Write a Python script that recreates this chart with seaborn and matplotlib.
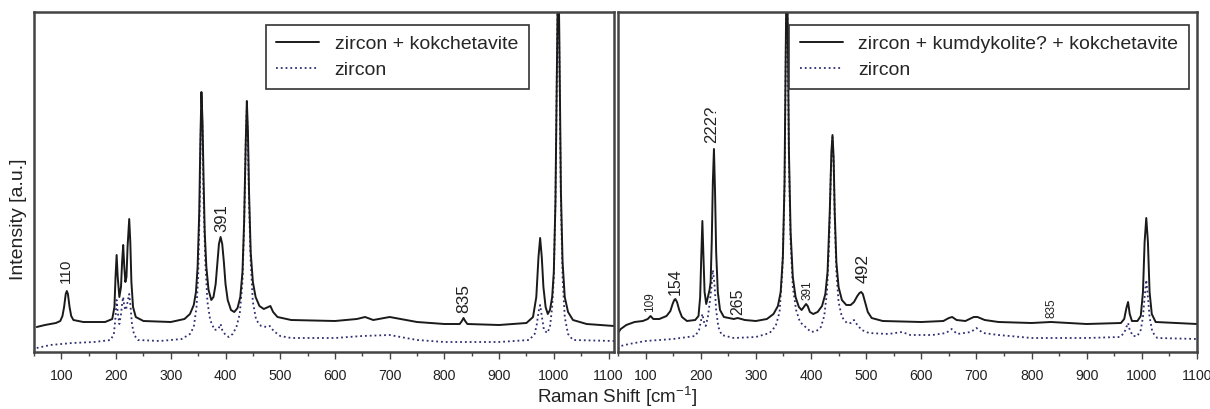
import numpy as np
import pandas as pd
import seaborn as sns
import matplotlib.pyplot as plt
from matplotlib.lines import Line2D

# ---- data (intensity in arbitrary units) ----
left_mix_x = [55, 70, 90, 98, 102, 105, 108, 110, 112, 115, 118, 122, 140, 180, 193, 197, 199, 201,
              203, 206, 209, 211, 213, 215, 217, 219, 221, 224, 226, 228, 231, 236, 250, 300, 325,
              335, 342, 346, 349, 352, 354, 356, 358, 360, 362, 365, 369, 374, 378, 382, 385, 388,
              391, 394, 397, 400, 404, 410, 416, 422, 427, 431, 434, 437, 439, 441, 443, 446, 450,
              455, 462, 470, 478, 482, 487, 495, 520, 600, 640, 655, 670, 700, 720, 750, 800, 828,
              832, 835, 838, 842, 900, 950, 962, 968, 972, 975, 978, 981, 985, 989, 993, 997, 1000,
              1003, 1006, 1008, 1010, 1013, 1016, 1020, 1026, 1035, 1060, 1110]
left_mix_y = [25, 27, 29, 31, 36, 45, 58, 61, 58, 45, 36, 32, 30, 30, 33, 45, 75, 97,
              75, 55, 65, 90, 107, 85, 70, 75, 105, 133, 110, 70, 45, 35, 31, 30, 33,
              38, 47, 60, 85, 140, 210, 260, 230, 170, 120, 85, 62, 52, 55, 68, 88, 108,
              115, 108, 90, 68, 52, 42, 40, 44, 55, 80, 130, 210, 251, 220, 160, 100, 70,
              55, 46, 43, 45, 46, 40, 35, 32, 31, 33, 35, 32, 35, 33, 30, 28, 28,
              31, 34, 31, 28, 27, 29, 35, 55, 95, 114, 95, 65, 45, 38, 42, 55, 80,
              150, 300, 400, 320, 160, 90, 55, 40, 32, 28, 26]

left_zr_x = [55, 80, 120, 160, 190, 196, 199, 201, 203, 206, 209, 211, 213, 215, 218, 221, 224, 226,
             229, 233, 240, 280, 320, 335, 342, 347, 350, 353, 355, 356, 358, 360, 363, 367, 372,
             380, 387, 391, 394, 400, 406, 413, 420, 426, 431, 434, 437, 439, 441, 443, 446, 450,
             456, 465, 475, 481, 488, 500, 520, 600, 650, 700, 750, 800, 900, 955, 965, 969, 972,
             975, 978, 982, 988, 993, 997, 1000, 1003, 1006, 1008, 1010, 1013, 1016, 1020, 1026,
             1035, 1110]
left_zr_y = [4, 7, 9, 10, 12, 18, 35, 52, 40, 28, 38, 48, 55, 45, 42, 50, 58, 48,
             28, 17, 12, 11, 13, 18, 25, 45, 75, 150, 230, 255, 220, 150, 90, 50, 32,
             22, 23, 28, 22, 17, 15, 18, 25, 38, 70, 125, 210, 245, 210, 150, 90, 50,
             32, 26, 25, 26, 21, 16, 14, 14, 16, 17, 12, 10, 10, 12, 18, 28, 40,
             47, 36, 22, 19, 25, 45, 75, 150, 300, 400, 300, 150, 75, 35, 18,
             12, 11]

right_mix_x = [50, 55, 65, 80, 95, 104, 109, 114, 125, 138, 145, 149, 152, 154, 157, 161, 166, 175,
               190, 196, 199, 201, 203, 205, 207, 210, 213, 216, 218, 220, 222, 224, 226, 228, 231,
               235, 242, 260, 267, 280, 300, 320, 332, 340, 345, 349, 352, 354, 356, 358, 360, 363,
               367, 372, 378, 383, 387, 391, 394, 398, 404, 412, 420, 426, 430, 434, 437, 439, 441,
               443, 446, 450, 456, 464, 472, 478, 484, 488, 491, 494, 498, 503, 510, 530, 600, 640,
               650, 656, 664, 680, 695, 702, 715, 740, 800, 835, 900, 962, 968, 972, 975, 978, 982,
               992, 998, 1002, 1005, 1008, 1011, 1014, 1018, 1025, 1100]
right_mix_y = [19, 23, 27, 30, 31, 33, 36, 33, 33, 36, 41, 48, 52, 53, 50, 42, 35, 31,
               32, 36, 55, 95, 131, 95, 60, 48, 55, 62, 70, 110, 170, 203, 160, 100, 60,
               42, 35, 33, 34, 32, 31, 33, 38, 46, 60, 95, 170, 290, 400, 320, 200, 120,
               75, 55, 45, 42, 45, 48, 46, 40, 38, 40, 46, 58, 80, 140, 200, 217, 195,
               140, 90, 65, 52, 47, 47, 50, 56, 59, 60, 58, 50, 40, 34, 31, 30, 31,
               34, 35, 32, 31, 35, 35, 32, 30, 29, 30, 28, 29, 33, 44, 50, 38, 31,
               31, 36, 60, 110, 134, 110, 60, 38, 30, 28]

right_zr_x = [50, 55, 70, 100, 150, 190, 197, 200, 203, 206, 209, 213, 216, 219, 222, 225, 228, 232,
              238, 260, 300, 325, 336, 343, 348, 352, 354, 356, 358, 360, 363, 367, 373, 380, 390,
              400, 410, 418, 424, 429, 433, 436, 439, 441, 443, 446, 450, 456, 465, 472, 478, 484,
              492, 505, 540, 565, 580, 620, 645, 655, 665, 690, 700, 712, 740, 800, 900, 960, 968,
              972, 975, 978, 984, 992, 998, 1002, 1005, 1008, 1011, 1014, 1019, 1028, 1100]
right_zr_y = [3, 6, 8, 11, 13, 16, 22, 30, 38, 30, 26, 35, 48, 62, 82, 68, 42, 25,
              17, 14, 15, 19, 26, 40, 80, 160, 280, 400, 300, 190, 110, 65, 42, 30, 25,
              20, 21, 25, 36, 60, 110, 180, 215, 190, 135, 80, 50, 35, 29, 29, 32, 27,
              22, 19, 18, 20, 17, 17, 19, 23, 18, 20, 24, 19, 17, 14, 14, 15, 19,
              25, 29, 22, 16, 16, 22, 35, 55, 72, 55, 35, 20, 14, 13]

# peak annotations: (text, x, y of text start, fontsize)
left_peaks = [("110", 109, 69, 11), ("391", 393, 120, 12), ("835", 836, 39, 12.5)]
right_peaks = [("109", 108, 40, 8.5), ("154", 154, 57, 11.5), ("222?", 219, 209, 12),
               ("265", 267, 37, 11.5), ("391", 393, 52, 8.5), ("492", 494, 69, 12.5),
               ("835", 836, 34, 8.5)]

left_labels = ["zircon + kokchetavite", "zircon"]
right_labels = ["zircon + kumdykolite? + kokchetavite", "zircon"]

# ---- style ----
sns.set_theme(style="ticks")
plt.rcParams['font.family'] = ['Liberation Sans', 'DejaVu Sans']
plt.rcParams['mathtext.fontset'] = 'custom'
plt.rcParams['mathtext.rm'] = 'Liberation Sans'

mix_color = "#1a1a1a"
zr_color = "#2e2e72"
spine_color = "#444444"

fig = plt.figure(figsize=(12.1, 4.09), dpi=100)
ax_l = fig.add_axes([34 / 1210, 57 / 409, 580 / 1210, 340 / 409])
ax_r = fig.add_axes([618 / 1210, 57 / 409, 579 / 1210, 340 / 409])


def draw_panel(ax, mix_x, mix_y, zr_x, zr_y, peaks, labels, xlim, leg_x):
    mix = pd.DataFrame({"shift": mix_x, "intensity": mix_y})
    zr = pd.DataFrame({"shift": zr_x, "intensity": zr_y})
    sns.lineplot(data=zr, x="shift", y="intensity", ax=ax, sort=False, estimator=None,
                 color=zr_color, linestyle=":", linewidth=1.3)
    sns.lineplot(data=mix, x="shift", y="intensity", ax=ax, sort=False, estimator=None,
                 color=mix_color, linewidth=1.4)

    for txt, px, py, fs in peaks:
        ax.text(px, py, txt, rotation=90, ha="center", va="bottom", fontsize=fs, color="#222222")

    ax.set_xlim(*xlim)
    ax.set_ylim(0, 340)
    ax.set_xticks(np.arange(100, 1101, 100))
    ax.set_xticks(np.arange(50, 1101, 50), minor=True)
    ax.set_yticks([])
    ax.set_xlabel("")
    ax.set_ylabel("")
    ax.tick_params(axis="x", which="major", length=5, width=1, pad=7, labelsize=10.2,
                   color=spine_color, labelcolor="#222222")
    ax.tick_params(axis="x", which="minor", length=3, width=1, color=spine_color)
    for s in ax.spines.values():
        s.set_visible(True)
        s.set_linewidth(1.8)
        s.set_color(spine_color)

    handles = [Line2D([], [], color=mix_color, linewidth=1.4),
               Line2D([], [], color=zr_color, linestyle=":", linewidth=1.3)]
    leg = ax.legend(handles, labels, loc="upper right", bbox_to_anchor=(leg_x, 0.962),
                    fontsize=14, frameon=True, fancybox=False, framealpha=1, edgecolor="#333333",
                    borderaxespad=0, handlelength=2.2, labelspacing=0.4, borderpad=0.55,
                    handletextpad=0.8)
    leg.get_frame().set_linewidth(1.2)


draw_panel(ax_l, left_mix_x, left_mix_y, left_zr_x, left_zr_y, left_peaks, left_labels,
           (55, 1110), 0.853)
draw_panel(ax_r, right_mix_x, right_mix_y, right_zr_x, right_zr_y, right_peaks, right_labels,
           (50, 1100), 0.986)

fig.text(19 / 1210, 190 / 409, "Intensity [a.u.]", rotation=90, ha="center", va="center",
         fontsize=14, color="#222222")
fig.text(617 / 1210, 6 / 409, "Raman Shift [cm$^{-1}$]", ha="center", va="baseline",
         fontsize=13.5, color="#222222")

fig.savefig("out.png", dpi=100)
